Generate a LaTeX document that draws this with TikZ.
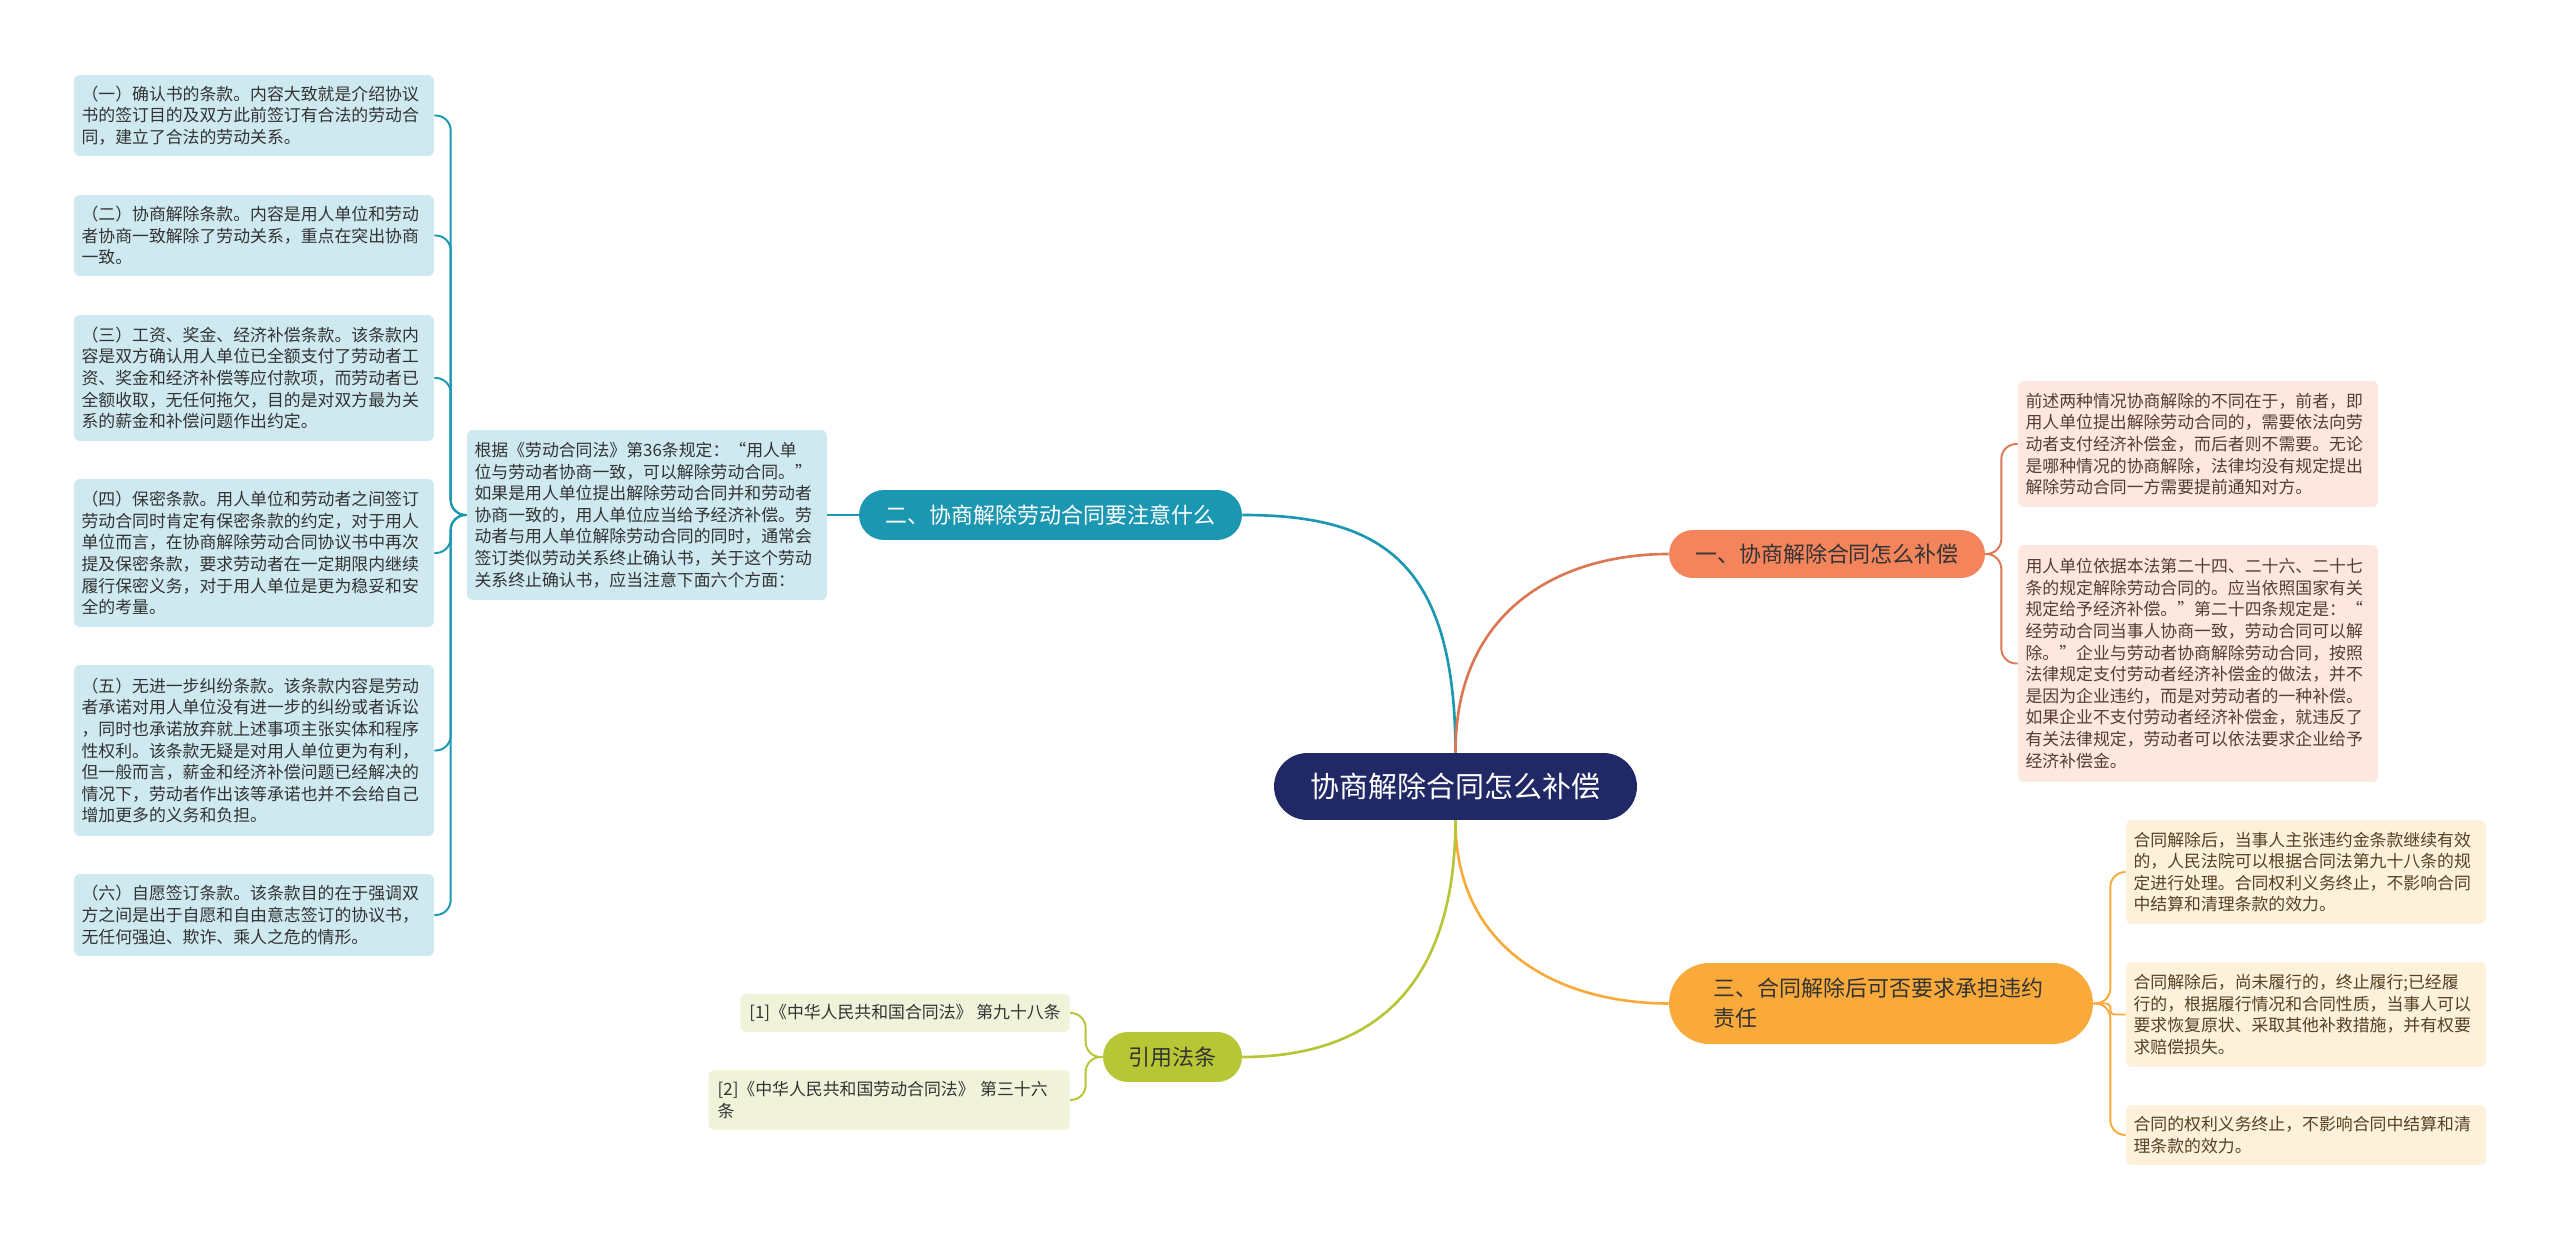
\documentclass[tikz,border=0pt]{standalone}
\usepackage{fontspec}
\setmainfont{Noto Sans CJK SC}
\usepackage{tikz}
\definecolor{navy}{RGB}{33,40,102}
\definecolor{tealc}{RGB}{27,151,178}
\definecolor{salmon}{RGB}{244,132,92}
\definecolor{amber}{RGB}{249,170,58}
\definecolor{lime}{RGB}{182,198,52}
\definecolor{bluebg}{RGB}{207,233,241}
\definecolor{pinkbg}{RGB}{252,232,224}
\definecolor{creambg}{RGB}{253,241,220}
\definecolor{citebg}{RGB}{240,243,218}
\definecolor{darktext}{RGB}{51,51,51}
\definecolor{pinktext}{RGB}{88,60,50}
\definecolor{creamtext}{RGB}{85,65,35}

\begin{document}
\begin{tikzpicture}[x=0.02cm, y=-0.02cm,
                        root/.style={fill=navy, text=white, rounded corners=0.67cm, minimum width=7.26cm, minimum height=1.34cm, inner sep=0pt, font=\fontsize{16.5}{20}\selectfont},
                        topic/.style={rounded corners=0.5cm, minimum height=1cm, inner sep=0pt, text=darktext, font=\fontsize{12.5}{17}\selectfont},
                        leaf/.style={rounded corners=0.12cm, inner xsep=0.15cm, inner ysep=0pt, text width=6.9cm, align=left, font=\fontsize{9.6}{12.3}\selectfont},
                        citebox/.style={fill=citebg, rounded corners=0.12cm, inner xsep=0.18cm, inner ysep=0pt, align=left, anchor=east, text=darktext, font=\fontsize{9.6}{12.3}\selectfont},
                        link/.style={line width=1.5pt},
                        brace/.style={line width=1.1pt, rounded corners=0.3cm}]
                        \fill[white] (0,0) rectangle (2560,1239);
                        \node[root] (root) at (1455.5,786.5) {协商解除合同怎么补偿};
                        \node[topic, fill=tealc, text=white, minimum width=7.66cm] (two) at (1050.5,515) {二、协商解除劳动合同要注意什么};
                        \node[topic, fill=salmon, minimum width=6.32cm, minimum height=0.96cm, rounded corners=0.48cm] (one) at (1827,554) {一、协商解除合同怎么补偿};
                        \node[topic, fill=amber, minimum width=8.48cm, minimum height=1.62cm, rounded corners=0.81cm, text width=6.7cm, align=left] (three) at (1881,1003.5) {三、合同解除后可否要求承担违约\\责任};
                        \node[topic, fill=lime, minimum width=2.78cm] (cite) at (1172.5,1057) {引用法条};
                        \node[leaf, fill=bluebg, text=darktext, minimum height=3.4cm] (basis) at (647,515) {根据《劳动合同法》第36条规定：“用人单\\位与劳动者协商一致，可以解除劳动合同。”\\如果是用人单位提出解除劳动合同并和劳动者\\协商一致的，用人单位应当给予经济补偿。劳\\动者与用人单位解除劳动合同的同时，通常会\\签订类似劳动关系终止确认书，关于这个劳动\\关系终止确认书，应当注意下面六个方面：};
                        \node[leaf, fill=bluebg, text=darktext, minimum height=1.62cm] (p1) at (254,115.5) {（一）确认书的条款。内容大致就是介绍协议\\书的签订目的及双方此前签订有合法的劳动合\\同，建立了合法的劳动关系。};
                        \node[leaf, fill=bluebg, text=darktext, minimum height=1.62cm] (p2) at (254,235.5) {（二）协商解除条款。内容是用人单位和劳动\\者协商一致解除了劳动关系，重点在突出协商\\一致。};
                        \node[leaf, fill=bluebg, text=darktext, minimum height=2.52cm] (p3) at (254,378) {（三）工资、奖金、经济补偿条款。该条款内\\容是双方确认用人单位已全额支付了劳动者工\\资、奖金和经济补偿等应付款项，而劳动者已\\全额收取，无任何拖欠，目的是对双方最为关\\系的薪金和补偿问题作出约定。};
                        \node[leaf, fill=bluebg, text=darktext, minimum height=2.96cm] (p4) at (254,553) {（四）保密条款。用人单位和劳动者之间签订\\劳动合同时肯定有保密条款的约定，对于用人\\单位而言，在协商解除劳动合同协议书中再次\\提及保密条款，要求劳动者在一定期限内继续\\履行保密义务，对于用人单位是更为稳妥和安\\全的考量。};
                        \node[leaf, fill=bluebg, text=darktext, minimum height=3.42cm] (p5) at (254,750.5) {（五）无进一步纠纷条款。该条款内容是劳动\\者承诺对用人单位没有进一步的纠纷或者诉讼\\，同时也承诺放弃就上述事项主张实体和程序\\性权利。该条款无疑是对用人单位更为有利，\\但一般而言，薪金和经济补偿问题已经解决的\\情况下，劳动者作出该等承诺也并不会给自己\\增加更多的义务和负担。};
                        \node[leaf, fill=bluebg, text=darktext, minimum height=1.64cm] (p6) at (254,915) {（六）自愿签订条款。该条款目的在于强调双\\方之间是出于自愿和自由意志签订的协议书，\\无任何强迫、欺诈、乘人之危的情形。};
                        \node[leaf, fill=pinkbg, text=pinktext, minimum height=2.52cm] (ra) at (2198,444) {前述两种情况协商解除的不同在于，前者，即\\用人单位提出解除劳动合同的，需要依法向劳\\动者支付经济补偿金，而后者则不需要。无论\\是哪种情况的协商解除，法律均没有规定提出\\解除劳动合同一方需要提前通知对方。};
                        \node[leaf, fill=pinkbg, text=pinktext, minimum height=4.74cm] (rb) at (2198,663.5) {用人单位依据本法第二十四、二十六、二十七\\条的规定解除劳动合同的。应当依照国家有关\\规定给予经济补偿。”第二十四条规定是：“\\经劳动合同当事人协商一致，劳动合同可以解\\除。”企业与劳动者协商解除劳动合同，按照\\法律规定支付劳动者经济补偿金的做法，并不\\是因为企业违约，而是对劳动者的一种补偿。\\如果企业不支付劳动者经济补偿金，就违反了\\有关法律规定，劳动者可以依法要求企业给予\\经济补偿金。};
                        \node[leaf, fill=creambg, text=creamtext, minimum height=2.08cm] (rc) at (2306,872) {合同解除后，当事人主张违约金条款继续有效\\的，人民法院可以根据合同法第九十八条的规\\定进行处理。合同权利义务终止，不影响合同\\中结算和清理条款的效力。};
                        \node[leaf, fill=creambg, text=creamtext, minimum height=2.1cm] (rd) at (2306,1014.5) {合同解除后，尚未履行的，终止履行;已经履\\行的，根据履行情况和合同性质，当事人可以\\要求恢复原状、采取其他补救措施，并有权要\\求赔偿损失。};
                        \node[leaf, fill=creambg, text=creamtext, minimum height=1.2cm] (re) at (2306,1135) {合同的权利义务终止，不影响合同中结算和清\\理条款的效力。};
                        \node[citebox, minimum height=0.76cm] (c1) at (1070,1013) {[1]《中华人民共和国合同法》 第九十八条};
                        \node[citebox, minimum height=1.2cm, text width=6.86cm] (c2) at (1070,1100) {[2]《中华人民共和国劳动合同法》 第三十六\\条};
                        \draw[link, tealc] (root.north) .. controls (1455,560) and (1380,515) .. (two.east);
                        \draw[link, salmon!90!black] (root.north) .. controls (1455,610) and (1560,554) .. (one.west);
                        \draw[link, amber] (root.south) .. controls (1455,950) and (1560,1003.5) .. (three.west);
                        \draw[link, lime] (root.south) .. controls (1455,1000) and (1360,1057) .. (cite.east);
                        \draw[brace, tealc] (two.west) -- (basis.east);
                        \foreach \p in {p1,p2,p3,p4,p5,p6}
                            \draw[brace, tealc] (basis.west) -- ++(-16,0) |- (\p.east);
                        \foreach \r in {ra,rb}
                            \draw[brace, salmon!90!black] (one.east) -- ++(16,0) |- (\r.west);
                        \foreach \r in {rc,re}
                            \draw[brace, amber] (three.east) -- ++(17,0) |- (\r.west);
                        \draw[brace, amber, rounded corners=0.08cm] (three.east) -- ++(17,0) |- (rd.west);
                        \foreach \c in {c1,c2}
                            \draw[brace, lime] (cite.west) -- ++(-17,0) |- (\c.east);
                    \end{tikzpicture}
\end{document}
